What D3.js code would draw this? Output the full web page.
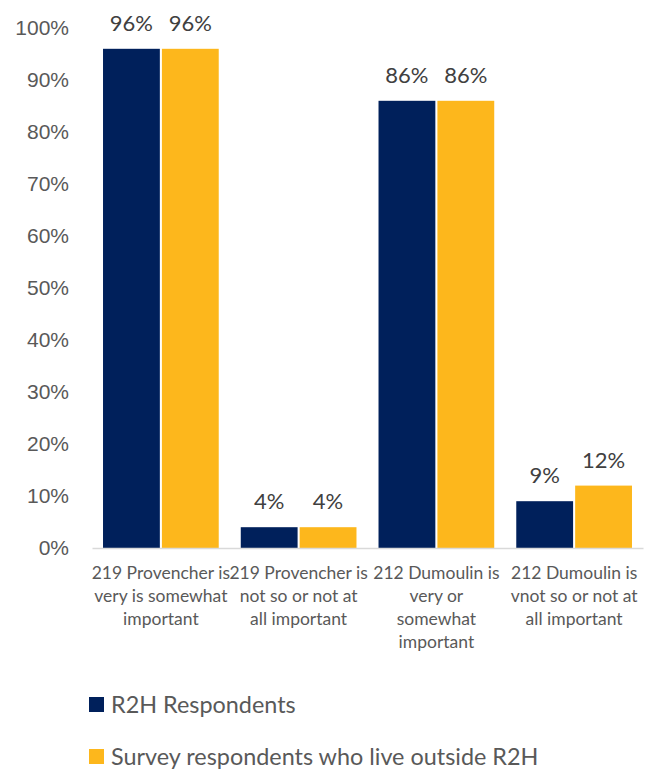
<!DOCTYPE html>
<html>
<head>
<meta charset="utf-8">
<script src="https://cdn.jsdelivr.net/npm/d3@7"></script>
<style>
  html, body { margin: 0; padding: 0; background: #ffffff; }
  svg { display: block; font-family: "Source Sans Pro", Lato, "Noto Sans", sans-serif; }
</style>
</head>
<body>
<svg id="chart" width="654" height="770"></svg>
<script>
const categories = [
  "219 Provencher is|very is somewhat|important",
  "219 Provencher is|not so or not at|all important",
  "212 Dumoulin is|very or|somewhat|important",
  "212 Dumoulin is|vnot so or not at|all important"
];
const seriesNames = ["R2H Respondents", "Survey respondents who live outside R2H"];
const r2hValues = [96, 4, 86, 9];
const outsideValues = [96, 4, 86, 12];
const yTicks = [0, 10, 20, 30, 40, 50, 60, 70, 80, 90, 100];
const colors = ["#00205B", "#FDB71C"];

const svg = d3.select("#chart");
const plotBottom = 548;

const x0 = d3.scaleBand().domain(categories).range([92, 643]).paddingInner(0.16).paddingOuter(0.08);
const x1 = d3.scaleBand().domain([0, 1]).range([0, x0.bandwidth()]).paddingInner(0.035);
const y = d3.scaleLinear().domain([0, 100]).range([plotBottom, 28]);

const series = [r2hValues, outsideValues];

// y axis labels
const yAxis = d3.axisLeft(y).tickValues(yTicks).tickFormat(d => d + "%").tickSize(0).tickPadding(0);
const yg = svg.append("g").attr("transform", "translate(69,0)").call(yAxis);
yg.select(".domain").remove();
yg.selectAll("text").attr("fill", "#595959").style("font-size", "21px").style("font-family", "inherit");

// bars
const groups = svg.append("g").selectAll("g").data(categories).join("g")
  .attr("transform", d => `translate(${x0(d)},0)`);
groups.selectAll("rect").data((c, i) => series.map((s, k) => ({ k, v: s[i] }))).join("rect")
  .attr("x", d => x1(d.k))
  .attr("width", x1.bandwidth())
  .attr("y", d => y(d.v))
  .attr("height", d => plotBottom - y(d.v))
  .attr("fill", d => colors[d.k]);
groups.selectAll("text").data((c, i) => series.map((s, k) => ({ k, v: s[i] }))).join("text")
  .attr("x", d => x1(d.k) + x1.bandwidth() / 2)
  .attr("y", d => y(d.v) - 18)
  .attr("text-anchor", "middle")
  .attr("fill", "#404040")
  .style("font-size", "22px")
  .text(d => d.v + "%");

// x axis
const xAxis = d3.axisBottom(x0).tickSize(0).tickFormat("");
const xg = svg.append("g").attr("transform", `translate(0,${plotBottom})`).call(xAxis);
xg.select(".domain").attr("stroke", "#D9D9D9").attr("stroke-width", 1.5);

const catLabels = svg.append("g").selectAll("text").data(categories).join("text")
  .attr("x", d => x0(d) + x0.bandwidth() / 2)
  .attr("y", 579)
  .attr("text-anchor", "middle")
  .attr("fill", "#595959")
  .style("font-size", "17.5px");
catLabels.each(function(d) {
  const t = d3.select(this);
  d.split("|").forEach((line, i) => {
    t.append("tspan").attr("x", x0(d) + x0.bandwidth() / 2).attr("dy", i === 0 ? 0 : 23).text(line);
  });
});

// legend
const leg = svg.append("g").selectAll("g").data(seriesNames).join("g")
  .attr("transform", (d, i) => `translate(89,${697 + i * 52})`);
leg.append("rect").attr("width", 15).attr("height", 15).attr("fill", (d, i) => colors[i]);
leg.append("text").attr("x", 22).attr("y", 15.5).attr("fill", "#595959").style("font-size", "23.4px").text(d => d);
</script>
</body>
</html>
